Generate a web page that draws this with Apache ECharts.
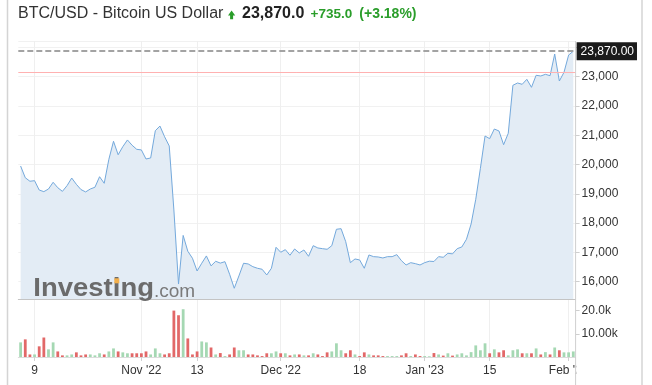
<!DOCTYPE html>
<html>
<head>
<meta charset="utf-8">
<script src="https://cdn.jsdelivr.net/npm/echarts@6/dist/echarts.min.js"></script>
<style>
html,body{margin:0;padding:0;background:#fff;}
#c{width:652px;height:385px;}
</style>
</head>
<body>
<div id="c"></div>
<script>
// ---- data (daily, Oct 6 2022 .. Feb 2 2023) ----
const startDate = [2022, 9, 6]; // Oct 6 2022
const prices = [
  19950, 19550, 19430, 19450, 19130, 19075, 19165, 19395, 19210, 19085,
  19280, 19540, 19325, 19145, 19065, 19165, 19225, 19585, 19360, 20180,
  20795, 20335, 20610, 20840, 20660, 20520, 20500, 20190, 20225, 21155,
  21315, 20950, 20635, 18450, 15920, 17580, 17040, 16800, 16365, 16630,
  16880, 16540, 16697, 16635, 16684, 16254, 15776, 16196, 16629, 16606,
  16513, 16458, 16424, 16230, 16458, 17175, 17005, 17094, 16903, 17117,
  16981, 17083, 16868, 17230, 17152, 17128, 17107, 17230, 17790, 17810,
  17367, 16650, 16776, 16742, 16458, 16913, 16855, 16844, 16810, 16855,
  16855, 16923, 16718, 16571, 16650, 16616, 16571, 16650, 16700, 16690,
  16855, 16834, 16970, 16950, 17128, 17186, 17448, 17971, 18814, 19872,
  20975, 20883, 21214, 21146, 20678, 21068, 22706, 22785, 22740, 22911,
  22638, 23048, 23024, 23081, 23034, 23775, 22853, 23150, 23739, 23870
];
// volume in thousands
const volumes = [
  6.3, 7.6, 1.1, 1.1, 4.6, 8.4, 3.3, 6.3, 2.4, 0.7,
  0.7, 1.1, 2.0, 0.7, 1.1, 1.1, 0.7, 1.6, 1.1, 2.4,
  3.7, 2.4, 2.0, 1.6, 1.6, 1.6, 1.6, 2.4, 1.1, 3.7,
  1.6, 1.1, 1.6, 20.0, 18.0, 20.6, 8.0, 1.1, 2.4, 6.7,
  6.3, 4.1, 1.1, 1.7, 0.4, 1.1, 4.1, 2.9, 2.9, 1.1,
  1.1, 0.7, 0.4, 1.6, 1.6, 2.4, 1.6, 1.6, 0.7, 1.1,
  1.1, 0.7, 0.7, 1.6, 1.1, 0.4, 2.0, 2.4, 5.9, 2.9,
  1.6, 2.9, 1.1, 0.4, 2.0, 1.1, 0.7, 0.7, 0.4, 0.4,
  0.4, 0.4, 0.7, 1.6, 0.4, 1.1, 0.4, 0.4, 0.3, 1.7,
  1.1, 0.6, 1.6, 0.6, 1.1, 1.6, 0.7, 2.1, 5.0, 2.9,
  5.9, 1.6, 3.3, 2.0, 2.9, 0.7, 2.9, 3.3, 1.6, 1.6,
  1.6, 3.7, 1.1, 2.1, 1.1, 4.1, 2.9, 2.0, 2.0, 2.4
];
const tickIndices = [3, 26, 38, 56, 73, 87, 101, 118];
const tickLabels = ['9', "Nov '22", '13', "Dec '22", '18', "Jan '23", '15', "Feb '23"];
const lastPrice = 23870;
const prevClose = 23135;
const priceTicks = [16000, 17000, 18000, 19000, 20000, 21000, 22000, 23000];
const volumeTickLabels = {10: '10.00k', 20: '20.0k'};

// ---- build ----
const categories = [];
for (let i = 0; i < prices.length; i++) {
  const d = new Date(startDate[0], startDate[1], startDate[2] + i);
  categories.push(d.getFullYear() + '-' + (d.getMonth() + 1) + '-' + d.getDate());
}
const tickMap = {};
tickIndices.forEach((ix, k) => { tickMap[ix] = tickLabels[k]; });
const isTick = (idx) => tickMap[idx] !== undefined;
const UP = '#a5d8b3', DOWN = '#e26868';
const volData = volumes.map((v, i) => ({
  value: v,
  itemStyle: { color: (i === 0 || prices[i] >= prices[i - 1]) ? UP : DOWN }
}));
const fmt = (v) => String(v).replace(/\B(?=(\d{3})+(?!\d))/g, ',');
const FONT = '"Liberation Sans", Arial, sans-serif';
const GREEN = '#2a9d2a';

const GL = 18.3, GR = 575.6, PT = 41, PB = 299, VB = 357;

const option = {
  animation: false,
  backgroundColor: '#fff',
  textStyle: { fontFamily: FONT },
  grid: [
    { left: GL, top: PT, width: GR - GL, height: PB - PT },
    { left: GL, top: PB, width: GR - GL, height: VB - PB }
  ],
  xAxis: [
    {
      type: 'category', gridIndex: 0, data: categories, boundaryGap: true,
      axisLine: { show: true, lineStyle: { color: '#c4c4c4', width: 1 } },
      axisTick: { show: false },
      axisLabel: { show: false, interval: (i) => isTick(i) },
      splitLine: { show: true, interval: (i) => isTick(i), alignWithLabel: true, lineStyle: { color: '#efefef', width: 1 } }
    },
    {
      type: 'category', gridIndex: 1, data: categories, boundaryGap: true,
      axisLine: { show: true, lineStyle: { color: '#dcdcdc', width: 1 } },
      axisTick: { show: true, alignWithLabel: true, interval: (i) => isTick(i), length: 4, lineStyle: { color: '#d0d0d0' } },
      axisLabel: {
        show: true, interval: (i) => isTick(i), margin: 8,
        formatter: (v, i) => tickMap[i] || '',
        fontSize: 12, color: '#333', fontFamily: FONT
      },
      splitLine: { show: true, interval: (i) => isTick(i), alignWithLabel: true, lineStyle: { color: '#efefef', width: 1 } }
    }
  ],
  yAxis: [
    {
      type: 'value', gridIndex: 0, position: 'right',
      min: 15409, max: 24219, splitNumber: 9, scale: true,
      axisLine: { show: false },
      axisTick: { show: true, length: 4, lineStyle: { color: '#cfcfcf' } },
      axisLabel: {
        margin: 6, fontSize: 12, color: '#333', fontFamily: FONT,
        showMinLabel: false, showMaxLabel: false,
        formatter: (v) => priceTicks.indexOf(v) >= 0 ? fmt(v) : ''
      },
      splitLine: { show: true, lineStyle: { color: '#f1f1f1', width: 1 } }
    },
    {
      type: 'value', gridIndex: 1, position: 'right',
      min: 0, max: 25, interval: 10,
      axisLine: { show: false },
      axisTick: { show: true, length: 4, lineStyle: { color: '#cfcfcf' } },
      axisLabel: {
        margin: 6, fontSize: 12, color: '#333', fontFamily: FONT,
        showMinLabel: false, showMaxLabel: false,
        formatter: (v) => volumeTickLabels[v] || ''
      },
      splitLine: { show: false }
    }
  ],
  series: [
    {
      type: 'line', xAxisIndex: 0, yAxisIndex: 0, data: prices,
      symbol: 'none', smooth: false,
      lineStyle: { color: '#74a9dc', width: 1 },
      areaStyle: { color: '#e3ecf5', opacity: 1, origin: 'start' },
      markLine: {
        silent: true, symbol: ['none', 'none'], animation: false,
        data: [
          {
            yAxis: prevClose,
            lineStyle: { color: '#ffb1b1', width: 1, type: 'solid' },
            label: { show: false }
          },
          {
            yAxis: lastPrice,
            lineStyle: { color: '#a3a3a3', width: 2, type: [6, 3] },
            label: {
              show: true, position: 'end', distance: 1,
              formatter: '23,870.00',
              color: '#fff', backgroundColor: '#1b1b1b',
              fontSize: 12, fontFamily: FONT, lineHeight: 14,
              padding: [2, 3, 2, 4]
            }
          }
        ]
      }
    },
    {
      type: 'bar', xAxisIndex: 1, yAxisIndex: 1, data: volData,
      barWidth: '60%'
    }
  ],
  graphic: [
    // container borders
    { type: 'line', z: 100, shape: { x1: 7.5, y1: 0, x2: 7.5, y2: 385 }, style: { stroke: '#d4d4d4', lineWidth: 1.5 } },
    { type: 'line', z: 100, shape: { x1: 642, y1: 0, x2: 642, y2: 385 }, style: { stroke: '#d4d4d4', lineWidth: 1.5 } },
    // clip area for last x label
    { type: 'rect', z: 90, shape: { x: 576.2, y: 360, width: 65, height: 24 }, style: { fill: '#fff' } },
    // right separator
    { type: 'line', z: 100, shape: { x1: 575.6, y1: PT, x2: 575.6, y2: 385 }, style: { stroke: '#cfcfcf', lineWidth: 1 } },
    // title
    { type: 'text', z: 100, x: 18, y: 14, style: { text: 'BTC/USD - Bitcoin US Dollar', font: '16px ' + FONT, fill: '#333', verticalAlign: 'middle' } },
    { type: 'polygon', z: 100, shape: { points: [[228, 15.6], [231.6, 10.6], [235.2, 15.6], [233.1, 15.6], [233.1, 19.3], [230.1, 19.3], [230.1, 15.6]] }, style: { fill: GREEN } },
    { type: 'text', z: 100, x: 242, y: 14, style: { text: '23,870.0', font: 'bold 16px ' + FONT, fill: '#222', verticalAlign: 'middle' } },
    { type: 'text', z: 100, x: 310.5, y: 14.5, style: { text: '+735.0', font: 'bold 13.5px ' + FONT, fill: GREEN, verticalAlign: 'middle' } },
    { type: 'text', z: 100, x: 359.3, y: 14.5, style: { text: '(+3.18%)', font: 'bold 14px ' + FONT, fill: GREEN, verticalAlign: 'middle' } },
    // watermark
    { type: 'text', z: 50, x: 33.3, y: 289.6, scaleX: 1.1, style: { text: 'Investing', font: 'bold 25px ' + FONT, fill: '#6b6b6b', verticalAlign: 'middle' } },
    { type: 'rect', z: 51, shape: { x: 114.3, y: 278.3, width: 5, height: 5 }, style: { fill: '#f3b04c' } },
    { type: 'text', z: 50, x: 154, y: 291.6, style: { text: '.com', font: '19px ' + FONT, fill: '#7a7a7a', verticalAlign: 'middle' } }
  ]
};
const chart = echarts.init(document.getElementById('c'), null, { renderer: 'canvas', width: 652, height: 385 });
chart.setOption(option);
</script>
</body>
</html>
